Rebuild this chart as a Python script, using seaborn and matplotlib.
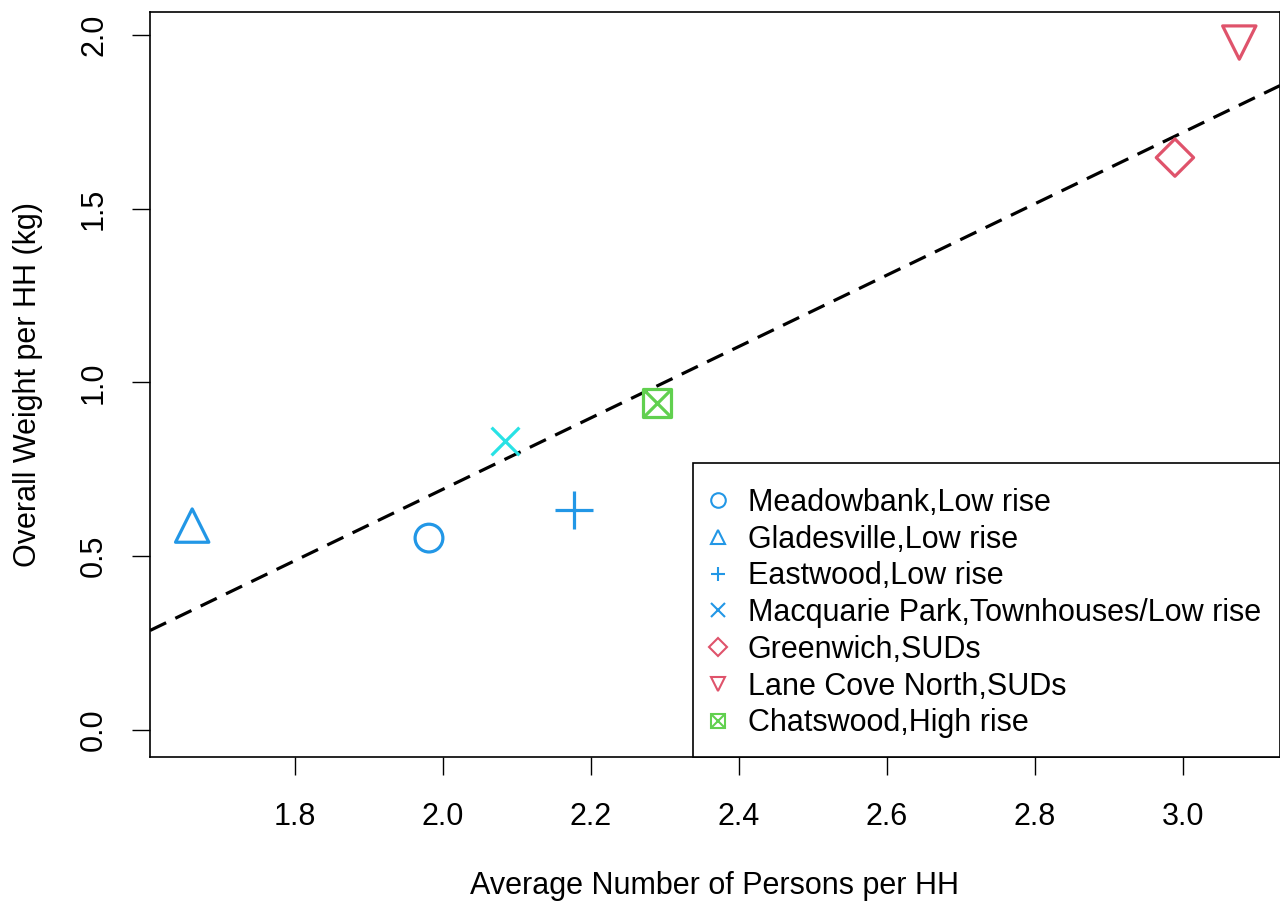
import numpy as np
import pandas as pd
import matplotlib
matplotlib.use("Agg")
import matplotlib.pyplot as plt
from matplotlib.lines import Line2D
from matplotlib.patches import Rectangle
import seaborn as sns

sites = ["Meadowbank,Low rise", "Gladesville,Low rise", "Eastwood,Low rise",
         "Macquarie Park,Townhouses/Low rise", "Greenwich,SUDs",
         "Lane Cove North,SUDs", "Chatswood,High rise"]
persons = [1.981, 1.661, 2.177, 2.084, 2.989, 3.076, 2.289]
weight = [0.552, 0.588, 0.632, 0.830, 1.647, 1.978, 0.940]
point_colors = ["#2297E6", "#2297E6", "#2297E6", "#28E2E5", "#DF536B", "#DF536B", "#61D04F"]
legend_colors = ["#2297E6", "#2297E6", "#2297E6", "#2297E6", "#DF536B", "#DF536B", "#61D04F"]
markers = ["o", "^", "+", "x", "D", "v", "sx"]
sizes = [20, 24, 28, 20, 19, 24, 20]
xticks = [1.8, 2.0, 2.2, 2.4, 2.6, 2.8, 3.0]
yticks = [0.0, 0.5, 1.0, 1.5, 2.0]

df = pd.DataFrame({"site": sites, "x": persons, "y": weight})

sns.set_theme(style="white")
plt.rcParams['font.family'] = ['Liberation Sans', 'DejaVu Sans']

FS = 22
fig = plt.figure(figsize=(12.8, 9.01), dpi=100)
ax = fig.add_axes([150 / 1280, 144 / 901, 1130 / 1280, 745 / 901])

lw = 2.3
for i, row in df.iterrows():
    m = markers[i]
    sub = df.iloc[[i]]
    if m == "sx":
        sns.scatterplot(data=sub, x="x", y="y", marker="s", s=sizes[i] ** 2,
                        facecolors="none", edgecolor=point_colors[i], linewidth=lw, ax=ax, zorder=3)
        sns.scatterplot(data=sub, x="x", y="y", marker="x", s=(sizes[i] * 0.95) ** 2,
                        color=point_colors[i], linewidth=lw, ax=ax, zorder=3)
    elif m in ("+", "x"):
        sns.scatterplot(data=sub, x="x", y="y", marker=m, s=sizes[i] ** 2,
                        color=point_colors[i], linewidth=lw, ax=ax, zorder=3)
    else:
        sns.scatterplot(data=sub, x="x", y="y", marker=m, s=sizes[i] ** 2,
                        facecolors="none", edgecolor=point_colors[i], linewidth=lw, ax=ax, zorder=3)

slope, intercept = np.polyfit(df["x"], df["y"], 1)
ax.axline((0, intercept), slope=slope, color="black", linewidth=2.3,
          linestyle=(0, (5.6, 3.2)), zorder=2)

ax.set_xlim(1.604, 3.131)
ax.set_ylim(-0.078, 2.066)
ax.set_xticks(xticks)
ax.set_xticklabels([f"{v:.1f}" for v in xticks])
ax.set_yticks(yticks)
ax.set_yticklabels([f"{v:.1f}" for v in yticks], rotation=90, va="center")
ax.tick_params(axis="both", direction="out", length=13, width=1.0, color="black",
               labelsize=FS, labelcolor="black", bottom=True, left=True)
ax.tick_params(axis="x", pad=19.5)
ax.tick_params(axis="y", pad=16.5)
ax.set_xlabel("Average Number of Persons per HH", fontsize=FS, labelpad=28, color="black")
ax.set_ylabel("Overall Weight per HH (kg)", fontsize=FS, labelpad=26, color="black")
for sp in ax.spines.values():
    sp.set_visible(True)
    sp.set_color("black")
    sp.set_linewidth(1.2)

handles = []
for i, lab in enumerate(sites):
    m = markers[i]
    if m == "sx":
        h = Line2D([], [], marker="s", linestyle="none", markersize=9.5,
                   markerfacecolor="none", markeredgecolor=legend_colors[i], markeredgewidth=1.5)
        h2 = Line2D([], [], marker="x", linestyle="none", markersize=9,
                    color=legend_colors[i], markeredgewidth=1.5)
        handles.append((h, h2))
        continue
    ms = 10.5 if m not in ("D",) else 9
    h = Line2D([], [], marker=m, linestyle="none", markersize=ms,
               markerfacecolor="none", markeredgecolor=legend_colors[i],
               color=legend_colors[i], markeredgewidth=1.5)
    handles.append(h)

# legend box (frame drawn separately so the inner padding can match)
box_left, box_top = 0.4805, 0.3946
ax.add_patch(Rectangle((box_left, 0), 1 - box_left, box_top, transform=ax.transAxes,
                       facecolor="white", edgecolor="black", linewidth=1.2, zorder=4,
                       clip_on=False))
leg = ax.legend(handles, sites, loc="upper left", bbox_to_anchor=(box_left, box_top - 0.017),
                fontsize=FS, frameon=False, borderaxespad=0, labelspacing=0.22,
                handletextpad=0.55, handlelength=0.85, borderpad=0.4)
leg.set_zorder(5)
for t in leg.get_texts():
    t.set_color("black")

fig.savefig("out.png", dpi=100)
